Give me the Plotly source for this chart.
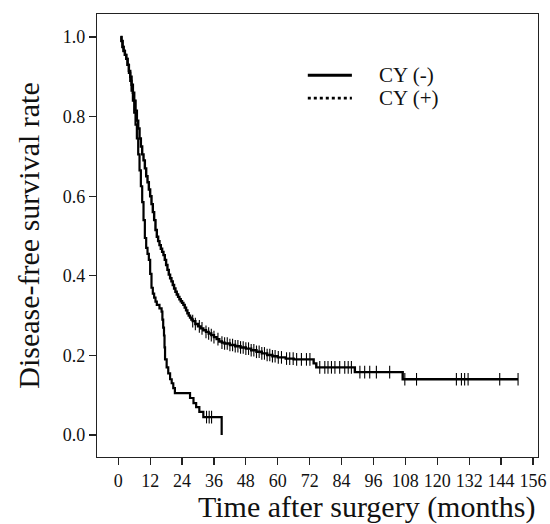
import plotly.graph_objects as go
import numpy as np

# ---- data ----
neg_time = [0.8, 1.2, 1.6, 2, 2.5, 3, 3.5, 4, 4.5, 5, 5.5, 6, 6.5, 7, 7.5, 8, 8.5, 9,
            9.5, 10, 10.5, 11, 11.5, 12, 12.5, 13, 13.5, 14, 14.5, 15, 15.5, 16, 16.5,
            17, 17.5, 18, 18.5, 19, 19.5, 20, 20.5, 21, 21.5, 22, 22.5, 23, 23.5, 24,
            24.5, 25, 25.5, 26, 26.5, 27, 27.5, 28, 29, 30, 31, 32, 33, 34, 35, 36,
            37, 38, 39, 40, 42, 44, 46, 48, 50, 52, 54, 56, 58, 60, 63, 66, 73.5,
            74.5, 89, 107, 150.4]
neg_surv = [1.0, 0.99, 0.975, 0.965, 0.955, 0.945, 0.93, 0.915, 0.9, 0.88, 0.86,
            0.84, 0.815, 0.79, 0.77, 0.745, 0.725, 0.705, 0.69, 0.67, 0.65, 0.635,
            0.617, 0.60, 0.58, 0.56, 0.54, 0.515, 0.498, 0.487, 0.477, 0.468, 0.46,
            0.452, 0.44, 0.427, 0.415, 0.403, 0.394, 0.386, 0.377, 0.368, 0.36, 0.353,
            0.347, 0.341, 0.336, 0.332, 0.327, 0.32, 0.313, 0.306, 0.3, 0.295, 0.29,
            0.286, 0.279, 0.273, 0.268, 0.263, 0.259, 0.255, 0.251, 0.246, 0.241,
            0.235, 0.232, 0.23, 0.226, 0.223, 0.22, 0.217, 0.213, 0.209, 0.205,
            0.201, 0.198, 0.195, 0.192, 0.19, 0.18, 0.17, 0.158, 0.14, 0.14]
neg_censor = [28, 29, 30.5, 31.5, 33, 34, 35, 36, 37.5, 39, 40, 41, 42, 43, 44, 45,
              46, 47, 48, 49, 50, 51, 52, 53, 54, 55, 56, 57, 58, 59, 60.2, 61.4,
              63.3, 64.5, 65.8, 67.1, 68.9, 70.8, 72.1, 75.8, 77.7, 78.9, 80.2, 81.5,
              83.3, 85.2, 86.5, 87.7, 90.9, 92.7, 94.6, 97.1, 102.1, 107.8, 112.2,
              127.2, 129.1, 130.3, 131.6, 143.5, 150.4]

pos_time = [0.8, 1.2, 1.6, 2, 2.5, 3, 3.5, 4, 4.5, 5, 5.5, 6, 6.5, 7, 7.5, 8, 8.5, 9,
            9.5, 10, 10.5, 11, 11.5, 12, 12.5, 13, 13.5, 14, 14.5, 15.5, 16.3, 16.6,
            16.9, 17.2, 17.4, 17.6, 18.2, 18.8, 19.5, 20.1, 20.7, 21.3, 27, 28.3,
            29.3, 30.5, 32, 38.9]
pos_surv = [1.0, 0.99, 0.975, 0.965, 0.955, 0.945, 0.93, 0.91, 0.89, 0.865, 0.84,
            0.81, 0.78, 0.745, 0.705, 0.665, 0.625, 0.585, 0.54, 0.495, 0.47, 0.455,
            0.44, 0.405, 0.37, 0.355, 0.345, 0.335, 0.327, 0.318, 0.31, 0.29, 0.27,
            0.25, 0.22, 0.19, 0.17, 0.155, 0.14, 0.13, 0.118, 0.105, 0.093, 0.08,
            0.07, 0.058, 0.045, 0.0]
pos_censor = [33.2, 34.2, 35.1]

labels = ["CY (-)", "CY (+)"]
x_title = "Time after surgery (months)"
y_title = "Disease-free survival rate"
x_ticks = list(range(0, 157, 12))
y_ticks = [0.0, 0.2, 0.4, 0.6, 0.8, 1.0]


def step_value(times, surv, t):
    idx = np.searchsorted(np.array(times), t, side="right") - 1
    return surv[max(idx, 0)]


FONT = "Liberation Serif"
fig = go.Figure()

for times, surv, cens, w in [(neg_time, neg_surv, neg_censor, 2.4),
                             (pos_time, pos_surv, pos_censor, 2.2)]:
    fig.add_trace(go.Scatter(x=times, y=surv, mode="lines", line_shape="hv",
                             line=dict(color="black", width=w), showlegend=False,
                             hoverinfo="skip"))
    fig.add_trace(go.Scatter(x=cens, y=[step_value(times, surv, c) for c in cens],
                             mode="markers", showlegend=False,
                             marker=dict(symbol="line-ns", size=9,
                                         line=dict(color="black", width=1.1))))

axis_common = dict(showline=True, linecolor="#222", linewidth=1.2, mirror=True,
                   showgrid=False, zeroline=False, ticks="outside", ticklen=7,
                   tickwidth=1.2, tickcolor="#222", automargin=False,
                   tickfont=dict(family=FONT, size=18, color="#111"))

# legend drawn in paper coordinates (line samples + labels)
legend_rows = [(0.862, "solid", 3.0), (0.810, "dot", 2.6)]
shapes = []
annotations = []
for (yp, dash, lw), lab in zip(legend_rows, labels):
    shapes.append(dict(type="line", xref="paper", yref="paper", x0=0.478, x1=0.578,
                       y0=yp, y1=yp, line=dict(color="black", width=lw, dash=dash)))
    annotations.append(dict(xref="paper", yref="paper", x=0.635, y=yp, text=lab,
                            showarrow=False, xanchor="left", yanchor="middle",
                            font=dict(family=FONT, size=21, color="#111")))
# x-axis title (offset to the right as in the original)
annotations.append(dict(xref="paper", yref="paper", x=0.61, y=-0.113, text=x_title,
                        showarrow=False, xanchor="center", yanchor="middle",
                        font=dict(family=FONT, size=30, color="#111")))

fig.update_layout(
    width=550, height=524,
    margin=dict(l=97, r=12, t=14, b=67),
    paper_bgcolor="white", plot_bgcolor="white",
    xaxis=dict(range=[-8, 157.9], tickvals=x_ticks, **axis_common),
    yaxis=dict(range=[-0.0553, 1.0578], tickvals=y_ticks, tickformat=".1f",
               title=dict(text=y_title,
                          font=dict(family=FONT, size=30, color="#111"), standoff=14),
               **axis_common),
    shapes=shapes, annotations=annotations,
    showlegend=False,
)

fig.write_html("out.html",
               config={"displayModeBar": False, "staticPlot": True},
               post_script="document.body.style.margin='0';"
                           "document.body.style.overflow='hidden';")
